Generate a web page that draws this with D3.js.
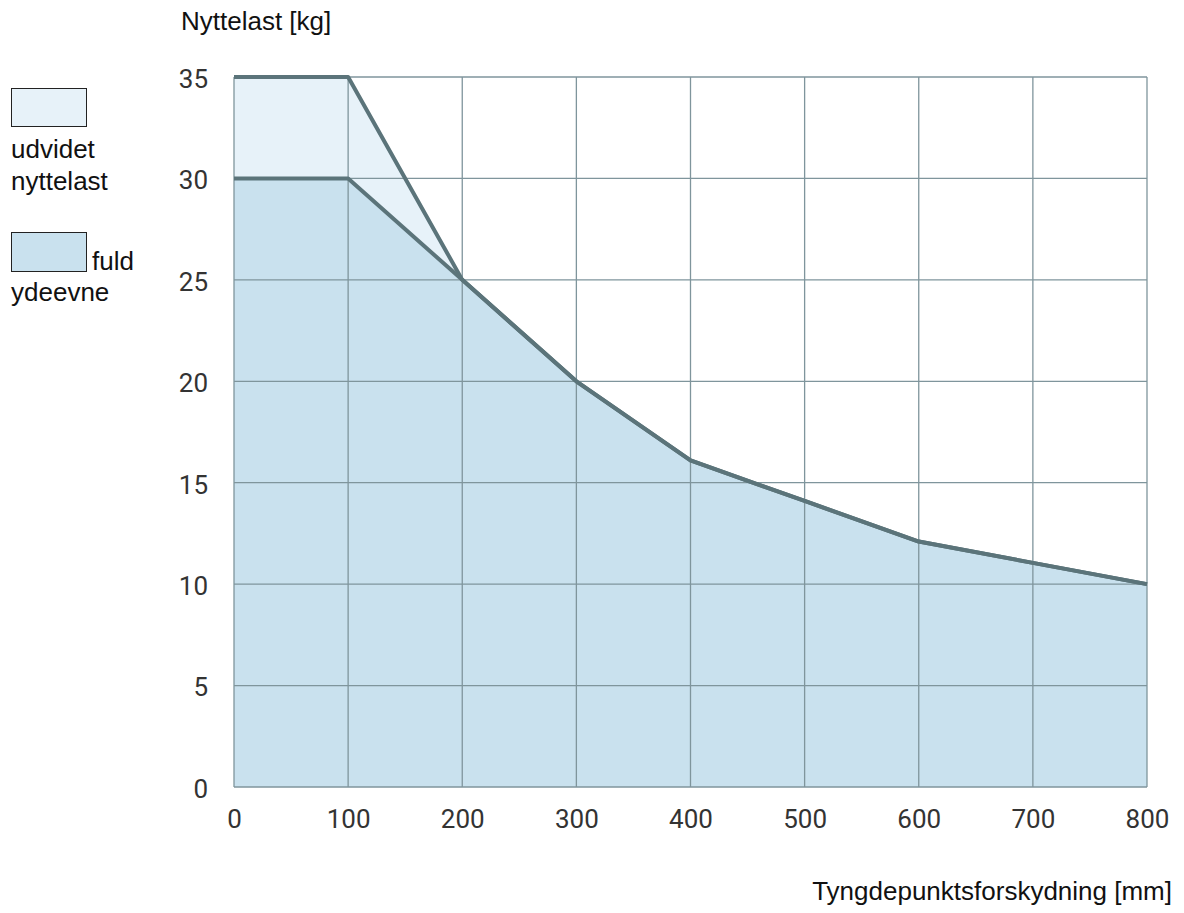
<!DOCTYPE html>
<html><head><meta charset="utf-8">
<script src="https://cdn.jsdelivr.net/npm/d3@7"></script>
<style>body{margin:0;background:#fff}</style>
</head><body>
<svg id="chart" width="1184" height="913"></svg>
<script>
const xTicks = [0,100,200,300,400,500,600,700,800];
const yTicks = [0,5,10,15,20,25,30,35];
const offsets = [0,100,200,300,400,500,600,700,800];
const fullLoad = [30,30,25,20,16.1,14.1,12.1,11.05,10];
const extendedLoad = [35,35,25,20,16.1,14.1,12.1,11.05,10];
const legendLabels = [["udvidet","nyttelast"],["fuld","ydeevne"]];
const yTitle = "Nyttelast [kg]";
const xTitle = "Tyngdepunktsforskydning [mm]";

const svg = d3.select("#chart");
const x = d3.scaleLinear().domain([0,800]).range([234,1147]);
const y = d3.scaleLinear().domain([0,35]).range([787,77]);

const lineCol = "#5b747a", gridCol = "#7f959c";
const extFill = "#e7f2f9", fullFill = "#c9e1ee";

const ext = offsets.map((d,i)=>({x:d,y:extendedLoad[i]}));
const full = offsets.map((d,i)=>({x:d,y:fullLoad[i]}));
const area = d3.area().x(d=>x(d.x)).y0(y(0)).y1(d=>y(d.y));
const line = d3.line().x(d=>x(d.x)).y(d=>y(d.y));

svg.append("path").attr("d",area(ext)).attr("fill",extFill);
svg.append("path").attr("d",area(full)).attr("fill",fullFill);

// grid
const g = svg.append("g");
g.selectAll("line.v").data(xTicks).join("line")
  .attr("x1",d=>x(d)).attr("x2",d=>x(d)).attr("y1",y(35)).attr("y2",y(0))
  .attr("stroke",gridCol).attr("stroke-width",1.3);
g.selectAll("line.h").data(yTicks).join("line")
  .attr("y1",d=>y(d)).attr("y2",d=>y(d)).attr("x1",x(0)).attr("x2",x(800))
  .attr("stroke",gridCol).attr("stroke-width",1.3);

svg.append("path").attr("d",line(ext)).attr("fill","none").attr("stroke",lineCol).attr("stroke-width",4).attr("stroke-linejoin","round");
svg.append("path").attr("d",line(full)).attr("fill","none").attr("stroke",lineCol).attr("stroke-width",4).attr("stroke-linejoin","round");

// axes labels via d3 axes
const xAxis = svg.append("g").attr("transform",`translate(0,${y(0)})`)
  .call(d3.axisBottom(x).tickValues(xTicks).tickSize(0).tickPadding(23));
const yAxis = svg.append("g").attr("transform",`translate(${x(0)},0)`)
  .call(d3.axisLeft(y).tickValues(yTicks).tickSize(0).tickPadding(26));
[xAxis,yAxis].forEach(a=>{
  a.select(".domain").remove();
  a.selectAll("text").attr("font-family","Roboto").attr("font-size",26).attr("fill","#333");
});
xAxis.selectAll("text").attr("dy","0.71em");
yAxis.selectAll("text").attr("dy","0.4em");

const sans = "'Liberation Sans', Arial, sans-serif";
const fs = 26;
svg.append("text").attr("x",181).attr("y",30).text(yTitle)
  .attr("font-family",sans).attr("font-size",fs).attr("fill","#111");
svg.append("text").attr("x",1172).attr("y",900).attr("text-anchor","end").text(xTitle)
  .attr("font-family",sans).attr("font-size",fs).attr("fill","#111");

// legend
svg.append("rect").attr("x",11.5).attr("y",88.5).attr("width",75).attr("height",38)
  .attr("fill",extFill).attr("stroke","#222").attr("stroke-width",1);
svg.append("text").attr("x",11).attr("y",158).text(legendLabels[0][0]).attr("font-family",sans).attr("font-size",fs).attr("fill","#111");
svg.append("text").attr("x",11).attr("y",190).text(legendLabels[0][1]).attr("font-family",sans).attr("font-size",fs).attr("fill","#111");
svg.append("rect").attr("x",11.5).attr("y",232.5).attr("width",75).attr("height",39)
  .attr("fill",fullFill).attr("stroke","#222").attr("stroke-width",1);
svg.append("text").attr("x",92).attr("y",270).text(legendLabels[1][0]).attr("font-family",sans).attr("font-size",fs).attr("fill","#111");
svg.append("text").attr("x",11).attr("y",301).text(legendLabels[1][1]).attr("font-family",sans).attr("font-size",fs).attr("fill","#111");
</script>
</body></html>
